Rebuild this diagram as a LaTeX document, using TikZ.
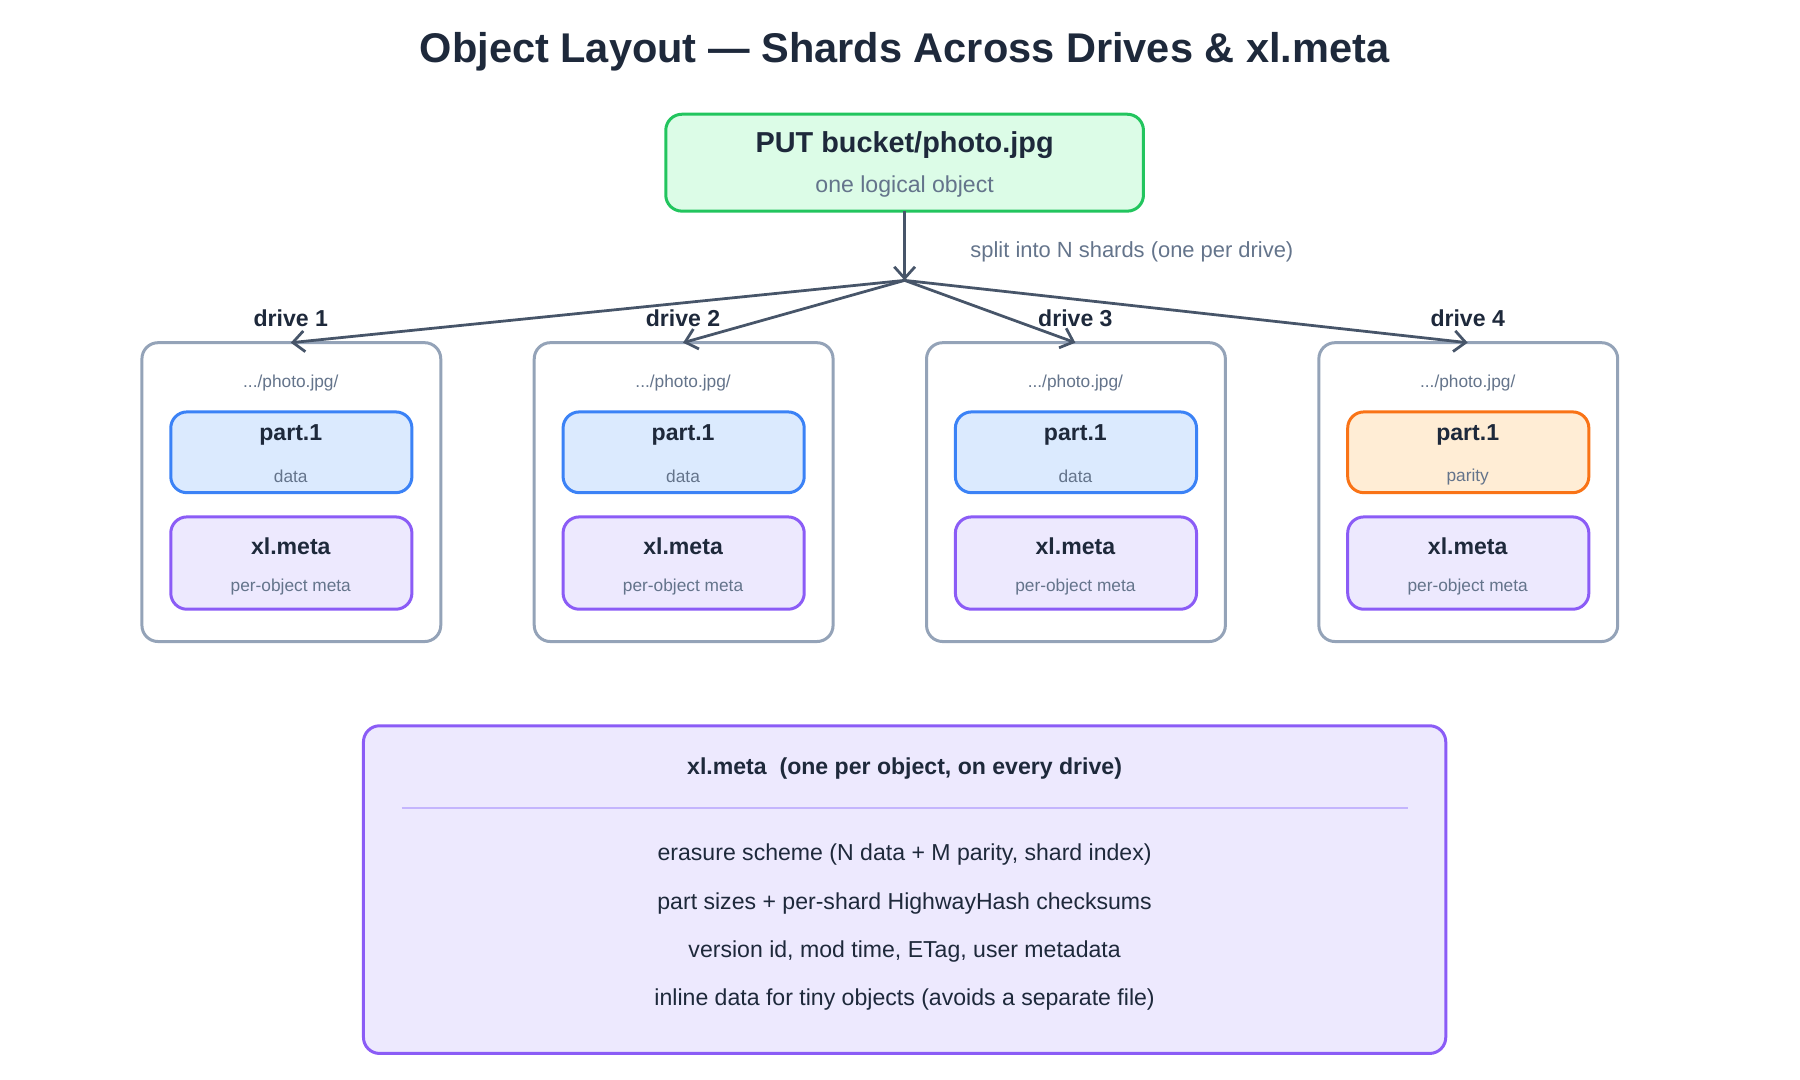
\documentclass[tikz,border=0pt]{standalone}
\usepackage{fontspec}
\setmainfont{Liberation Sans}
\usetikzlibrary{arrows.meta}
\definecolor{ink}{HTML}{1E293B}
\definecolor{sub}{HTML}{64748B}
\definecolor{conn}{HTML}{475569}
\definecolor{gb}{HTML}{22C55E}\definecolor{gf}{HTML}{DCFCE7}
\definecolor{bb}{HTML}{3B82F6}\definecolor{bf}{HTML}{DBEAFE}
\definecolor{pb}{HTML}{8B5CF6}\definecolor{pf}{HTML}{EDE9FE}
\definecolor{ob}{HTML}{F97316}\definecolor{of}{HTML}{FFEDD5}
\definecolor{db}{HTML}{94A3B8}\definecolor{ln}{HTML}{C4B5FD}
\begin{document}
\begin{tikzpicture}[x=0.5pt,y=-0.5pt,
  boxr/.style={rounded corners=7pt,line width=1.3pt},
  big/.style={font=\bfseries\fontsize{10}{12}\selectfont,text=ink},
  small/.style={font=\fontsize{7.5}{9}\selectfont,text=sub},
  arr/.style={draw=conn,line width=1.2pt,-{Straight Barb[length=5pt,width=9pt]}}]
\useasboundingbox (0,0) rectangle (1560,936);
\node[font=\bfseries\fontsize{18}{22}\selectfont,text=ink] (title) at (784,45) {Object Layout — Shards Across Drives \& xl.meta};
\draw[boxr,draw=gb,fill=gf] (577,99) rectangle (991,183);
\node[font=\bfseries\fontsize{12.5}{15}\selectfont,text=ink] (put) at (784,126) {PUT bucket/photo.jpg};
\node[font=\fontsize{10}{12}\selectfont,text=sub] (putsub) at (784,162) {one logical object};
\coordinate (putb) at (784,183);
\coordinate (hub) at (784,243);
\draw[arr] (putb) -- (hub);
\node[font=\fontsize{9.5}{12}\selectfont,text=sub,anchor=west] (split) at (834,218) {split into N shards (one per drive)};
\foreach \i/\cx/\kb/\kf/\kt in {1/252/bb/bf/data,2/592/bb/bf/data,3/932/bb/bf/data,4/1272/ob/of/parity}{
  \draw[boxr,draw=db,fill=white] (\cx-129,297) rectangle (\cx+130,556);
  \coordinate (d\i) at (\cx,297);
  \draw[arr] (hub) -- (d\i);
  \node[big] (dl\i) at (\cx,276) {drive \i};
  \node[small] (path\i) at (\cx,332) {.../photo.jpg/};
  \draw[boxr,draw=\kb,fill=\kf] (\cx-104,357) rectangle (\cx+105,427);
  \node[big] (p\i) at (\cx,377) {part.1};
  \node[small] (pt\i) at (\cx,413) {\kt};
  \draw[boxr,draw=pb,fill=pf] (\cx-104,448) rectangle (\cx+105,528);
  \node[big] (x\i) at (\cx,473) {xl.meta};
  \node[small] (xt\i) at (\cx,509) {per-object meta};
}
\draw[boxr,draw=pb,fill=pf] (315,629) rectangle (1253,913);
\node[big] (mt) at (784,666) {xl.meta\ \ (one per object, on every drive)};
\draw[ln,line width=0.8pt] (348,700) -- (1220,700);
\foreach \y/\t in {741/{erasure scheme (N data + M parity, shard index)},783/{part sizes + per-shard HighwayHash checksums},825/{version id, mod time, ETag, user metadata},866/{inline data for tiny objects (avoids a separate file)}}
  \node[font=\fontsize{10}{12}\selectfont,text=ink] at (784,\y) {\t};
\end{tikzpicture}
\end{document}
